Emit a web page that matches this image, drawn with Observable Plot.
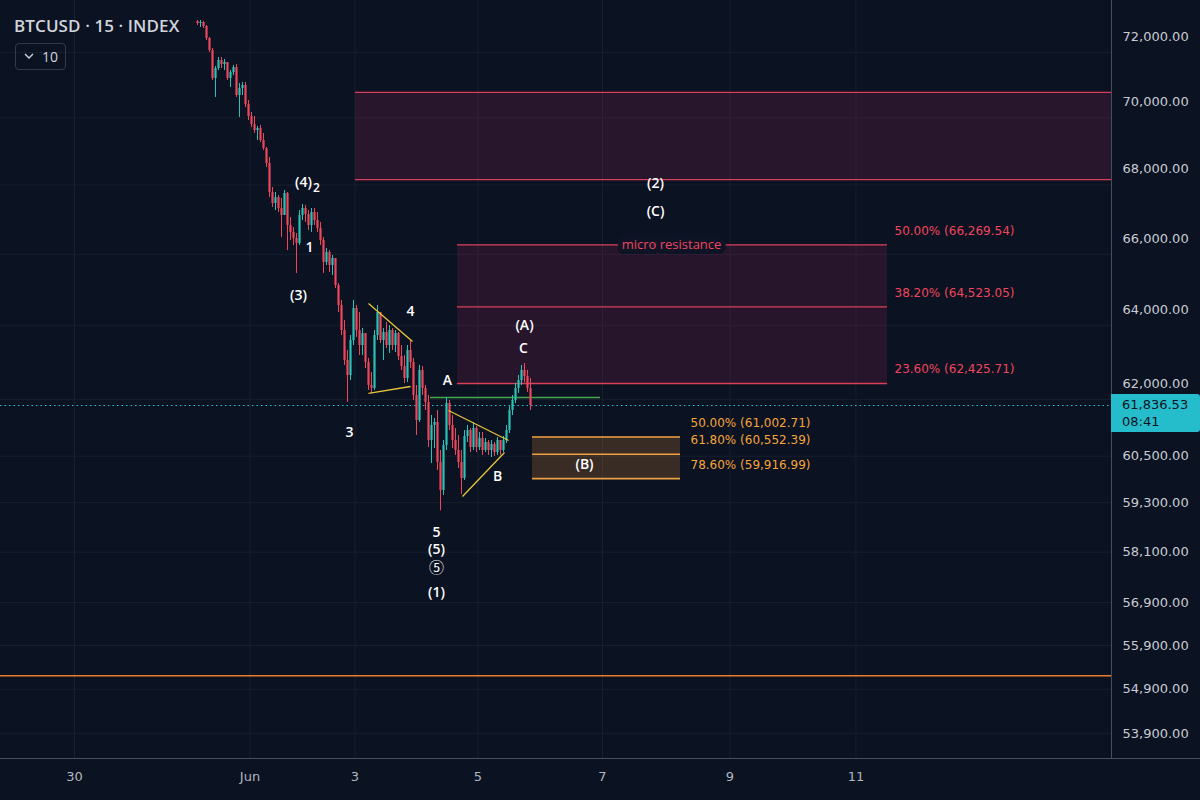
<!DOCTYPE html>
<html>
<head>
<meta charset="utf-8">
<script src="https://cdn.jsdelivr.net/npm/d3@7"></script>
<script src="https://cdn.jsdelivr.net/npm/@observablehq/plot@0.6"></script>
<style>
  html, body { margin: 0; padding: 0; background: #0b1222; }
  #wrap { position: relative; width: 1200px; height: 800px; overflow: hidden; background: #0b1222; }
  #chart { position: absolute; left: 0; top: 0; }
  #title { position: absolute; left: 14px; top: 14px; font: 600 17px "Open Sans", sans-serif; color: #d1d4dc; letter-spacing: 0.1px; }
  #btn { position: absolute; left: 15px; top: 43px; width: 51px; height: 27px; border: 1px solid #363a48; border-radius: 4px; box-sizing: border-box; color: #d1d4dc; font: 14px "Open Sans", sans-serif; line-height: 25px; }
  #btn .chev { position: absolute; left: 8px; top: -1px; width: 10px; height: 25px; }
  #btn .num { position: absolute; left: 26px; top: 0; }
  .hline { position: absolute; left: 0; top: 758px; width: 1200px; height: 1px; background: #4a4e5a; }
  .vline { position: absolute; left: 1111px; top: 0; width: 1px; height: 758px; background: #4a4e5a; }
  #badge { position: absolute; left: 1111px; width: 89px; height: 38px; background: #25bccb; border-radius: 0 3px 3px 0; color: #0b1222; font: 13px "DejaVu Sans", sans-serif; line-height: 17px; box-sizing: border-box; padding: 2px 0 0 11px; }
</style>
</head>
<body>
<div id="wrap">
  <div id="chart"></div>
  <div class="hline"></div>
  <div class="vline"></div>
  <div id="title">BTCUSD · 15 · INDEX</div>
  <div id="btn"><svg class="chev" viewBox="0 0 10 25"><path d="M1 11 L5 15 L9 11" fill="none" stroke="#d1d4dc" stroke-width="1.4"/></svg><span class="num">10</span></div>
  <div id="badge"><div id="bp"></div><div>08:41</div></div>
</div>
<script>
// ---------- data ----------
const firstOpen = 72967;
const highs = [72998,72998,72967,72842,72466,72123,71565,71844,71844,71782,
  71689,71442,71596,71627,71043,71074,71074,70524,70160,70040,
  69739,69769,69528,69110,68813,67929,67783,67695,67608,67841,
  67783,67057,66768,66595,67259,67433,67404,67259,67317,67317,
  67201,66912,66480,66166,66109,65967,65882,65176,64700,64144,
  63320,63731,64700,64560,64366,63923,63731,63102,62723,63868,
  64560,64283,63923,64089,64006,63923,63868,63813,63456,63184,
  63456,63593,63102,62372,62912,62885,62372,62104,61571,61491,
  61703,60648,60911,62050,61970,61571,61227,61043,60648,61174,
  61306,61227,61385,61280,61121,61121,60964,60911,60911,60858,
  60990,60911,61016,61306,61837,62104,62426,62641,62912,62966,
  62777,62560];
const lows = [72842,72779,72748,72372,71999,71135,70616,71442,71503,71442,
  71135,70921,71289,70616,70009,70677,70312,69919,69708,69528,
  69319,69259,69021,68518,67637,67346,67259,67201,66480,67114,
  66109,66394,66252,65458,66252,66970,66912,66681,66624,66826,
  66624,66252,65458,65683,65486,65401,65035,64366,63731,62912,
  61917,62506,63456,63676,63184,63184,62831,62238,62158,62238,
  63593,63511,63047,63374,63238,63320,63265,63047,62777,62426,
  62452,62831,61970,61043,61385,62104,61703,60727,60309,60701,
  60128,59100,59484,60648,61174,60701,60518,60180,59510,59869,
  60858,60596,60648,60596,60648,60518,60596,60518,60465,60492,
  60518,60518,60596,60832,61095,61571,61890,62158,62372,62452,
  62184,61703];
const closes = [72904,72936,72810,72435,72061,71196,71503,71751,71627,71689,
  71196,71381,71534,70677,70890,70982,70403,70040,69799,69618,
  69678,69319,69080,68636,67783,67462,67637,67317,67114,67753,
  66826,66624,66452,66308,67114,67317,67143,66826,67201,66970,
  66739,66394,65768,66052,65683,65882,65119,64560,63868,63047,
  62641,63593,64477,63868,63456,63786,62993,62372,62292,63731,
  64366,63593,63813,63456,63868,63456,63786,63156,62885,62560,
  63320,62993,62104,61438,62777,62292,61917,60911,61306,61385,
  60335,59612,60779,61890,61306,60911,60648,60335,59921,61016,
  61174,60727,61227,60727,60964,60648,60858,60648,60806,60596,
  60911,60648,60911,61174,61703,61970,62292,62506,62777,62614,
  62292,61836.53];
const lastPrice = 61836.53;

// price axis ticks (upper block sits just above its level, as in the reference)
const yTicksUpper = [72000, 70000, 68000, 66000, 64000, 62000];
const yTicksLower = [60500, 59300, 58100, 56900, 55900, 54900, 53900];
// time axis: bar index of each date label
const xTickBars = [-41, 17.5, 52.5, 93.5, 135, 177.5, 219.5];
const xTickLabels = ["30", "Jun", "3", "5", "7", "9", "11"];
const xDomain = [-65.667, 304.667];
const yDomain = [53349, 59300, 73631];

// fib retracement (resistance) levels
const redLevels = [62425.71, 64523.05, 66269.54];
const redPcts = ["23.60%", "38.20%", "50.00%"];
const redStart = 86.67, redEnd = 230;
// fib retracement (support) levels
const orangeLevels = [61002.71, 60552.39, 59916.99];
const orangePcts = ["50.00%", "61.80%", "78.60%"];
const orangeStart = 111.67, orangeEnd = 161;
// upper resistance zone
const zoneTop = 70770, zoneBottom = 68160, zoneStart = 52.67;
// other horizontal levels
const greenLevel = 62050, greenStart = 77.67, greenEnd = 134.33;
const orangeLine = 55207;

// yellow trend lines (triangles)
const trendBars1 = [57, 57, 83.67, 88.33];
const trendBars2 = [71.67, 71, 103.67, 102.33];
const trendVal1 = [64616, 62158, 61703, 59458];
const trendVal2 = [63566, 62345, 60911, 60596];

// wave labels
const waveText = ["(4)", "1", "(3)", "4", "3", "A", "(A)", "C", "B", "(B)", "(2)", "(C)", "5", "(5)", "(1)"];
const waveBar  = [35.33, 37.33, 33.67, 71, 50.67, 83.33, 109, 108.67, 100, 129, 152.67, 152.67, 79.67, 79.67, 79.67];
const waveVal  = [68075, 66195, 64840, 64393, 61121, 62506, 64006, 63374, 59973, 60283, 68046, 67230, 58569, 58163, 57134];
const circledText = "⑤", circledBar = 79.67, circledVal = 57708;
const subText = "2", subBar = 39.67, subVal = 67900;

// ---------- build ----------
const candles = closes.map((c, i) => ({
  i, open: i === 0 ? firstOpen : closes[i - 1], high: highs[i], low: lows[i], close: c
}));
const UP = "#2ac2b4", DOWN = "#f0465c";
const col = d => d.close >= d.open ? UP : DOWN;

const redBoxes = [0, 1].map(k => ({x1: redStart, x2: redEnd, y1: redLevels[k], y2: redLevels[k + 1]}));
const orangeBoxes = [0, 1].map(k => ({x1: orangeStart, x2: orangeEnd, y1: orangeLevels[k], y2: orangeLevels[k + 1]}));
const fmt = d3.format(",.2f");
const redRows = redLevels.map((v, k) => ({v, label: `${redPcts[k]} (${fmt(v)})`}));
const orangeRows = orangeLevels.map((v, k) => ({v, label: `${orangePcts[k]} (${fmt(v)})`}));
const trends = trendBars1.map((b, k) => ({x1: b, x2: trendBars2[k], y1: trendVal1[k], y2: trendVal2[k]}));
const waves = waveText.map((t, k) => ({t, x: waveBar[k], y: waveVal[k]}));

const fontUI = "'Open Sans', 'DejaVu Sans', sans-serif";

const plot = Plot.plot({
  width: 1200,
  height: 800,
  marginTop: 0,
  marginBottom: 42,
  marginLeft: 0,
  marginRight: 89,
  style: {background: "transparent", color: "#c3c6ce", fontFamily: "'DejaVu Sans', sans-serif", fontSize: "13px"},
  x: {type: "linear", domain: xDomain},
  y: {type: "log", domain: yDomain, range: [758, 502.17, 0]},
  marks: [
    Plot.gridX(xTickBars, {stroke: "#18202f", strokeOpacity: 1}),
    Plot.gridY(yTicksUpper.concat(yTicksLower), {stroke: "#18202f", strokeOpacity: 1}),
    // upper zone
    Plot.rect([{x1: zoneStart, x2: xDomain[1], y1: zoneBottom, y2: zoneTop}], {x1: "x1", x2: "x2", y1: "y1", y2: "y2", fill: "#a0285a", fillOpacity: 0.2}),
    Plot.ruleY([zoneTop, zoneBottom], {x1: zoneStart, x2: xDomain[1], stroke: "#d8405a", strokeWidth: 1.3}),
    // red fib
    Plot.rect(redBoxes, {x1: "x1", x2: "x2", y1: "y1", y2: "y2", fill: "#a0285a", fillOpacity: 0.18}),
    Plot.ruleY(redLevels, {x1: redStart, x2: redEnd, stroke: "#d8405a", strokeWidth: 1.3}),
    // orange fib
    Plot.rect(orangeBoxes, {x1: "x1", x2: "x2", y1: "y1", y2: "y2", fill: "#f09632", fillOpacity: 0.2}),
    Plot.ruleY(orangeLevels, {x1: orangeStart, x2: orangeEnd, stroke: "#f0a040", strokeWidth: 1.6}),
    // horizontal lines
    Plot.ruleY([orangeLine], {stroke: "#ef7a2c", strokeWidth: 1.5}),
    Plot.ruleY([greenLevel], {x1: greenStart, x2: greenEnd, stroke: "#43a64a", strokeWidth: 1.3}),
    Plot.ruleY([lastPrice], {stroke: "#26c6da", strokeWidth: 1, strokeDasharray: "1.5,3"}),
    // candles
    Plot.ruleX(candles, {x: "i", y1: "low", y2: "high", stroke: col, strokeWidth: 1}),
    Plot.ruleX(candles, {x: "i", y1: "open", y2: "close", stroke: col, strokeWidth: 2.2}),
    // trend lines
    Plot.link(trends, {x1: "x1", y1: "y1", x2: "x2", y2: "y2", stroke: "#e8c63a", strokeWidth: 1.3}),
    // fib labels
    Plot.text(redRows, {x: redEnd, y: "v", text: "label", dx: 7, dy: -14, textAnchor: "start", fill: "#f0465c", fontSize: 12, fontFamily: "'DejaVu Sans', sans-serif"}),
    Plot.text(orangeRows, {x: orangeEnd, y: "v", text: "label", dx: 10, dy: -14, textAnchor: "start", fill: "#f5a53a", fontSize: 12, fontFamily: "'DejaVu Sans', sans-serif"}),
    Plot.text([redLevels[2]], {x: 158, y: d => d, text: () => "micro resistance", fill: "#f0465c", fontSize: 13, fontFamily: fontUI, stroke: "#0f1326", strokeWidth: 10}),
    // wave labels
    Plot.text(waves, {x: "x", y: "y", text: "t", fill: "#ffffff", fontSize: 14, fontWeight: 600, fontFamily: fontUI}),
    Plot.text([circledVal], {x: circledBar, y: d => d, text: () => circledText, fill: "#ffffff", fontSize: 15, fontFamily: "'Noto Sans CJK SC', 'DejaVu Sans', sans-serif"}),
    Plot.text([subVal], {x: subBar, y: d => d, text: () => subText, fill: "#ffffff", fontSize: 12, fontWeight: 600, fontFamily: fontUI}),
    // axes
    Plot.axisY({anchor: "right", ticks: yTicksUpper, tickFormat: fmt, tickSize: 0, tickPadding: 11, dy: -16, fill: "#c8cbd3"}),
    Plot.axisY({anchor: "right", ticks: yTicksLower, tickFormat: fmt, tickSize: 0, tickPadding: 11, fill: "#c8cbd3"}),
    Plot.axisX({anchor: "bottom", ticks: xTickBars, tickFormat: d => xTickLabels[xTickBars.indexOf(d)], tickSize: 0, tickPadding: 13, fill: "#b2b5be"})
  ]
});
document.getElementById("chart").appendChild(plot);

// current price badge, positioned through the plot's y scale
const py = plot.scale("y").apply(lastPrice);
const badge = document.getElementById("badge");
badge.style.top = (py - 10.5) + "px";
document.getElementById("bp").textContent = fmt(lastPrice);
</script>
</body>
</html>
